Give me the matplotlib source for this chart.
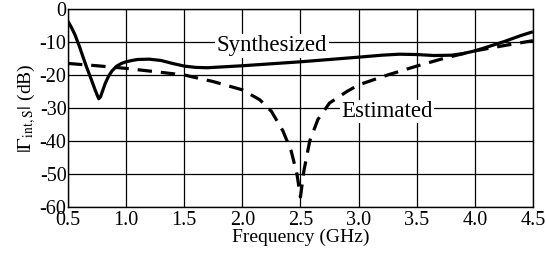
import matplotlib
matplotlib.use("Agg")
import matplotlib.pyplot as plt

plt.rcParams["font.family"] = ["Liberation Serif", "DejaVu Serif"]
plt.rcParams["mathtext.fontset"] = "stix"

# Synthesized curve (solid)
synth_freq = [0.5, 0.53, 0.56, 0.6, 0.63, 0.66, 0.7, 0.73, 0.75, 0.765, 0.78, 0.8, 0.82,
              0.85, 0.88, 0.92, 0.96, 1.0, 1.05, 1.1, 1.2, 1.3, 1.4, 1.5, 1.6, 1.7, 1.8,
              2.0, 2.25, 2.5, 2.75, 3.0, 3.2, 3.35, 3.5, 3.65, 3.8, 3.9, 4.0, 4.1, 4.25,
              4.4, 4.5]
synth_db = [-3.7, -5.6, -7.8, -11.5, -14.6, -17.6, -21.3, -24.2, -26.0, -27.2, -26.6, -24.6, -22.6,
            -20.3, -18.7, -17.3, -16.5, -16.0, -15.6, -15.3, -15.2, -15.6, -16.5, -17.3, -17.7, -17.8, -17.6,
            -17.2, -16.6, -16.0, -15.3, -14.6, -14.0, -13.7, -13.8, -14.1, -14.0, -13.5, -12.7, -11.6, -9.9,
            -8.0, -6.9]

# Estimated curve (dashed)
est_freq = [0.5, 0.75, 1.0, 1.25, 1.5, 1.75, 2.0, 2.15, 2.25, 2.35, 2.42, 2.47, 2.5,
            2.53, 2.58, 2.65, 2.75, 2.9, 3.0, 3.25, 3.5, 3.75, 4.0, 4.25, 4.5]
est_db = [-16.5, -17.2, -18.0, -19.0, -20.0, -22.0, -24.5, -27.5, -31.0, -37.0, -43.0, -50.0, -57.0,
          -49.0, -40.0, -33.5, -28.5, -25.0, -23.0, -20.0, -17.3, -14.8, -12.7, -11.1, -9.6]

x_ticks = [0.5, 1.0, 1.5, 2.0, 2.5, 3.0, 3.5, 4.0, 4.5]
y_ticks = [0, -10, -20, -30, -40, -50, -60]


def main() -> None:
    fig = plt.figure(figsize=(5.46, 2.61), dpi=100)
    ax = fig.add_axes([0.1245, 0.207, 0.8515, 0.7585])

    ax.plot(synth_freq, synth_db, color="black", linewidth=2.3, solid_capstyle="butt")
    ax.plot(est_freq, est_db, color="black", linewidth=2.3, linestyle=(0, (4.5, 2.8)))

    ax.set_xlim(0.5, 4.5)
    ax.set_ylim(-60, 0)
    ax.set_xticks(x_ticks)
    ax.set_xticklabels([f"{t:.1f}" for t in x_ticks])
    ax.set_yticks(y_ticks)
    ax.set_yticklabels([str(t) for t in y_ticks])
    ax.tick_params(axis="x", length=0, labelsize=14.5, pad=3)
    ax.tick_params(axis="y", length=0, labelsize=14.5, pad=1)
    ax.grid(True, color="black", linewidth=0.9)
    for spine in ax.spines.values():
        spine.set_linewidth(1.0)

    ax.set_xlabel("Frequency (GHz)", fontsize=14, labelpad=-1)
    ax.set_ylabel(r"$|\Gamma_{\rm int,S}|$ (dB)", fontsize=14, labelpad=1)

    ax.text(2.256, -11.1, "Synthesized", fontsize=16.5, ha="center", va="center",
            bbox=dict(facecolor="white", edgecolor="none", pad=1))
    ax.text(3.247, -31.1, "Estimated", fontsize=16.5, ha="center", va="center",
            bbox=dict(facecolor="white", edgecolor="none", pad=1))

    fig.savefig("out.png", dpi=100)
    plt.close(fig)


if __name__ == "__main__":
    main()
